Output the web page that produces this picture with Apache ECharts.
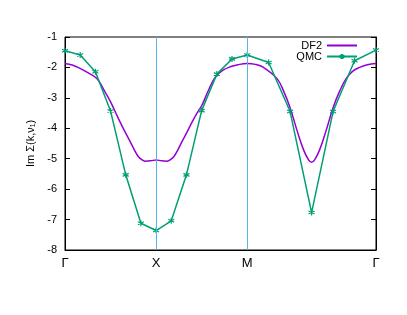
<!DOCTYPE html>
<html><head><meta charset="utf-8">
<script src="https://cdn.jsdelivr.net/npm/echarts@6/dist/echarts.min.js"></script>
<style>html,body{margin:0;padding:0;background:#fff}#c{width:407px;height:315px}</style>
</head><body><div id="c"></div>
<script>
// k-path coordinate (Γ-X = 1, X-M = 1, M-Γ = √2)
const tickPos = [0, 1, 2, 3.4142];
const tickLabels = ['Γ', 'X', 'M', 'Γ'];
const yTicks = [-8, -7, -6, -5, -4, -3, -2, -1];

const qmcK = [0, 0.1667, 0.3333, 0.5, 0.6667, 0.8333, 1, 1.1667, 1.3333, 1.5, 1.6667, 1.8333, 2, 2.2357, 2.4714, 2.7071, 2.9428, 3.1785, 3.4142];
const qmcV = [-1.45, -1.59, -2.14, -3.43, -5.53, -7.12, -7.36, -7.04, -5.53, -3.42, -2.22, -1.72, -1.59, -1.84, -3.45, -6.77, -3.45, -1.78, -1.43];

const df2K = [0, 0.08, 0.165, 0.25, 0.352, 0.42, 0.495, 0.549, 0.604, 0.659, 0.714, 0.758, 0.802, 0.846, 0.879, 0.94, 1.0, 1.06, 1.121, 1.154, 1.198, 1.242, 1.286, 1.341, 1.396, 1.451, 1.502, 1.575, 1.648, 1.73, 1.813, 1.9, 2.0, 2.09, 2.179, 2.326, 2.40, 2.473, 2.546, 2.619, 2.674, 2.707, 2.74, 2.795, 2.868, 2.941, 3.015, 3.088, 3.16, 3.235, 3.32, 3.4142];
const df2V = [-1.87, -1.92, -2.03, -2.17, -2.37, -2.7, -3.1, -3.44, -3.79, -4.12, -4.43, -4.69, -4.92, -5.04, -5.08, -5.07, -5.04, -5.07, -5.08, -5.04, -4.92, -4.69, -4.43, -4.12, -3.79, -3.49, -3.25, -2.75, -2.33, -2.1, -1.98, -1.91, -1.87, -1.9, -2.0, -2.36, -2.78, -3.34, -4.06, -4.71, -5.04, -5.12, -5.04, -4.71, -4.06, -3.34, -2.78, -2.36, -2.12, -2.0, -1.91, -1.87];

const zip = (a, b) => a.map((v, i) => [v, b[i]]);
const chart = echarts.init(document.getElementById('c'), null, {renderer: 'canvas'});
const font = 'Liberation Sans, Arial, sans-serif';
chart.setOption({
  animation: false,
  backgroundColor: '#fff',
  grid: {left: 65, right: 31, top: 37, bottom: 65, show: true, borderColor: '#000', borderWidth: 1, backgroundColor: 'transparent'},
  legend: {
    right: 44, top: 35, orient: 'vertical', align: 'right', itemGap: 0,
    itemWidth: 30, itemHeight: 6,
    textStyle: {fontFamily: font, fontSize: 11, color: '#000', padding: [0, 0, 0, 0]},
    data: [
      {name: 'DF2', itemStyle: {color: 'transparent', borderColor: 'transparent', borderWidth: 0, opacity: 0}},
      {name: 'QMC'}
    ]
  },
  xAxis: {
    type: 'value', min: 0, max: 3.4142,
    axisLine: {show: true, lineStyle: {color: '#000', width: 1}},
    axisTick: {show: false},
    splitLine: {show: false},
    axisLabel: {
      customValues: tickPos,
      formatter: v => { const i = tickPos.findIndex(p => Math.abs(p - v) < 1e-3); return i >= 0 ? tickLabels[i] : ''; },
      fontFamily: font, fontSize: 13, color: '#000', margin: 7
    }
  },
  yAxis: [{
    type: 'value', min: -8, max: -1, interval: 1,
    name: 'Im Σ(k,ν₁)', nameLocation: 'middle', nameGap: 14,
    nameTextStyle: {fontFamily: font, fontSize: 11, color: '#000'},
    axisLine: {show: true, lineStyle: {color: '#000', width: 1}},
    axisTick: {show: true, inside: true, length: 5, lineStyle: {color: '#000'}},
    splitLine: {show: false},
    axisLabel: {fontFamily: font, fontSize: 11, color: '#000', margin: 8}
  }, {
    type: 'value', min: -8, max: -1, interval: 1, position: 'right',
    axisLine: {show: true, lineStyle: {color: '#000', width: 1}},
    axisTick: {show: true, inside: true, length: 5, lineStyle: {color: '#000'}},
    splitLine: {show: false},
    axisLabel: {show: false}
  }],
  series: [{
    name: 'DF2', type: 'line', data: zip(df2K, df2V), smooth: 0.4,
    showSymbol: false, symbol: 'none',
    lineStyle: {color: '#9400d3', width: 1.5}, itemStyle: {color: '#9400d3'},
    markLine: {
      silent: true, symbol: 'none', label: {show: false},
      lineStyle: {color: '#56b4e9', width: 1, type: 'solid'},
      data: [{xAxis: tickPos[1]}, {xAxis: tickPos[2]}]
    },
    z: 3
  }, {
    name: 'QMC', type: 'line', data: zip(qmcK, qmcV),
    symbol: 'path://M0,-10L0,10M-8.66,-5L8.66,5M-8.66,5L8.66,-5', symbolSize: 6,
    lineStyle: {color: '#009e73', width: 1.5},
    itemStyle: {color: 'transparent', borderColor: '#009e73', borderWidth: 1.2},
    z: 4
  }]
});
</script></body></html>
